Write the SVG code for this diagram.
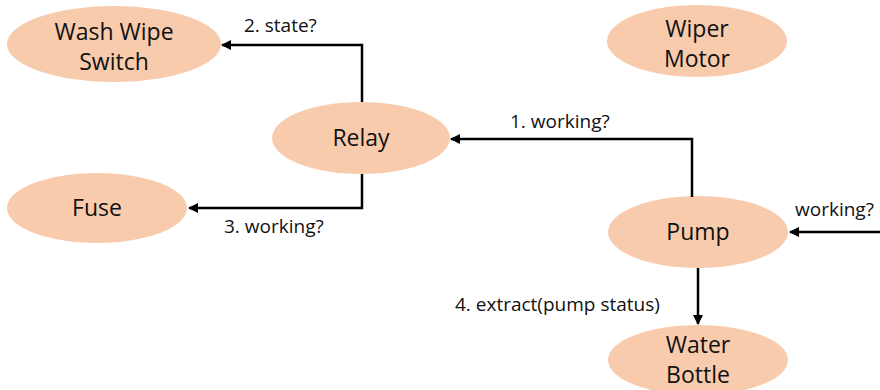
<svg xmlns="http://www.w3.org/2000/svg" width="880" height="390" viewBox="0 0 880 390">
<style>
.node ellipse{fill:#F8CBAD;stroke:none}
.nt{font-family:"Open Sans","Liberation Sans",sans-serif;font-size:23px;font-weight:500;fill:#111;text-anchor:middle}
.lt{font-family:"Open Sans","Liberation Sans",sans-serif;font-size:19px;font-weight:500;fill:#111}
.edge{fill:none;stroke:#000;stroke-width:2.5}
</style>
<defs>
<marker id="arr" markerWidth="10" markerHeight="10" refX="9" refY="5" orient="auto" markerUnits="userSpaceOnUse" viewBox="0 0 10 10">
<path d="M0,0 L10,5 L0,10 z" fill="#000"/>
</marker>
</defs>
<rect width="880" height="390" fill="#fff"/>
<g id="wash-wipe-switch" class="node"><ellipse cx="114" cy="44" rx="107" ry="38"/><text class="nt" x="114" y="40">Wash Wipe</text><text class="nt" x="114" y="70">Switch</text></g>
<g id="wiper-motor" class="node"><ellipse cx="697" cy="41" rx="90" ry="36"/><text class="nt" x="697" y="37">Wiper</text><text class="nt" x="697" y="67">Motor</text></g>
<g id="relay" class="node"><ellipse cx="361" cy="138" rx="89" ry="36"/><text class="nt" x="361" y="146">Relay</text></g>
<g id="fuse" class="node"><ellipse cx="97" cy="208" rx="90" ry="35"/><text class="nt" x="97" y="216">Fuse</text></g>
<g id="pump" class="node"><ellipse cx="698" cy="232" rx="90" ry="36"/><text class="nt" x="698" y="240">Pump</text></g>
<g id="water-bottle" class="node"><ellipse cx="698" cy="360" rx="90" ry="35"/><text class="nt" x="698" y="353">Water</text><text class="nt" x="698" y="383">Bottle</text></g>
<g id="connectors">
<path class="edge" d="M362,102 V45 H222" marker-end="url(#arr)"/>
<path class="edge" d="M362,174 V208 H189" marker-end="url(#arr)"/>
<path class="edge" d="M692,197 V139 H451" marker-end="url(#arr)"/>
<path class="edge" d="M880,232 H790" marker-end="url(#arr)"/>
<path class="edge" d="M698,268 V324" marker-end="url(#arr)"/>
<text class="lt" x="244" y="32">2. state?</text>
<text class="lt" x="510" y="128">1. working?</text>
<text class="lt" x="224" y="233">3. working?</text>
<text class="lt" x="795" y="216">working?</text>
<text class="lt" x="455" y="311">4. extract(pump status)</text>
</g>
</svg>
